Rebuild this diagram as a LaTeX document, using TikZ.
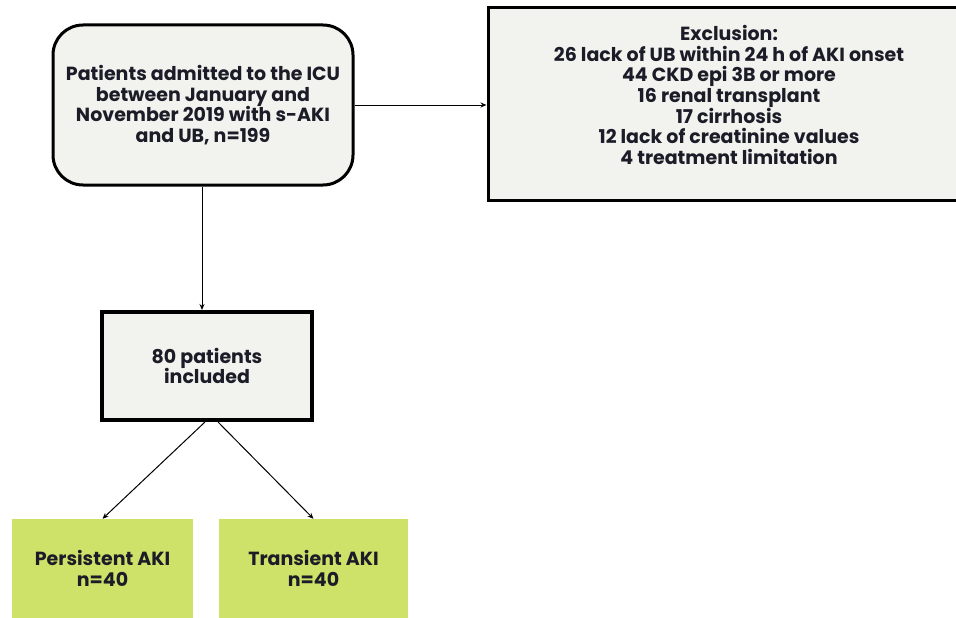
\documentclass[tikz,border=0pt]{standalone}
\usepackage{fontspec}
\setmainfont{Poppins}
\usepackage{tikz}
\usetikzlibrary{arrows.meta,calc}
\definecolor{boxfill}{RGB}{242,242,238}
\definecolor{limegreen}{RGB}{206,225,104}
\definecolor{inktext}{RGB}{28,28,40}
\tikzstyle{flowtext}=[text=inktext,font=\fontsize{19}{20.6}\selectfont\bfseries,align=center]
\tikzstyle{graybox}=[flowtext,draw=black,line width=3pt,fill=boxfill,inner sep=0pt]
\tikzstyle{greenbox}=[flowtext,fill=limegreen,draw=none,inner sep=0pt]
\tikzstyle{flowarrow}=[draw=black,line width=1pt,-{Stealth[length=6pt,width=5pt]}]

\begin{document}
\begin{tikzpicture}[x=1pt,y=-1pt]

  \useasboundingbox (0,0) rectangle (956,618);

  % STUDY POPULATION
  \node[graybox,rounded corners=30pt,minimum width=300pt,minimum height=160pt] (admitted) at (203,105)
    {Patients admitted to the ICU\\between January and\\November 2019 with s-AKI\\and UB, n=199};

  % EXCLUSIONS
  \node[graybox,minimum width=482pt,minimum height=192pt] (exclusion) at (729,104) {};
  \node[flowtext] (exclusiontext) at (729,95)
    {Exclusion:\\26 lack of UB within 24 h of AKI onset\\44 CKD epi 3B or more\\16 renal transplant\\17 cirrhosis\\12 lack of creatinine values\\4 treatment limitation};

  % INCLUDED
  \node[graybox,line width=4pt,minimum width=210pt,minimum height=108pt] (included) at (207,366)
    {80 patients\\included};

  % GROUPS
  \node[greenbox,minimum width=181pt,minimum height=99pt] (persistent) at (102.5,568.5)
    {Persistent AKI\\n=40};
  \node[greenbox,minimum width=189pt,minimum height=99pt] (transient) at (313.5,568.5)
    {Transient AKI\\n=40};

  % CONNECTORS
  \draw[flowarrow] (admitted.east) -- (exclusion.west |- admitted.east);
  \draw[flowarrow] ([xshift=-1pt]admitted.south) -- ([xshift=-1pt]admitted.south |- included.north);
  \draw[flowarrow] ([xshift=-2pt]included.south) -- (persistent.north);
  \draw[flowarrow] ([xshift=11pt]included.south) -- (transient.north);

\end{tikzpicture}
\end{document}
